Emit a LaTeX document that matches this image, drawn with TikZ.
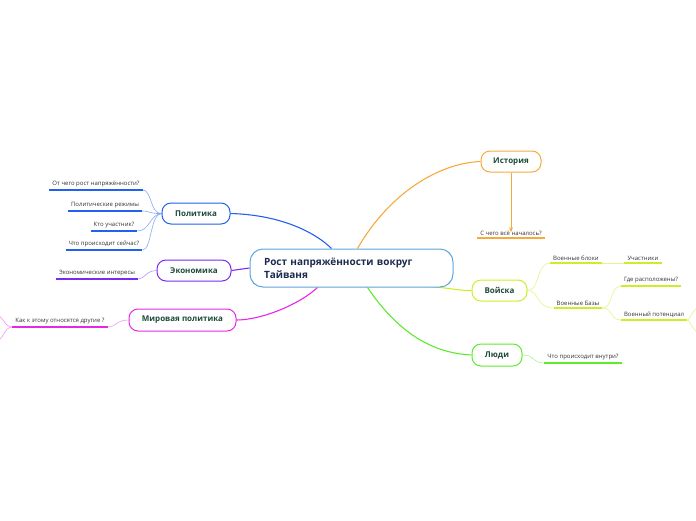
\documentclass[tikz,border=0pt]{standalone}
\usepackage{fontspec}
\setmainfont{Open Sans}
\usetikzlibrary{arrows.meta,backgrounds}
\definecolor{cOrange}{HTML}{F7A93B}
\definecolor{cBlue}{HTML}{2260F0}
\definecolor{cBlueL}{HTML}{8AA8F5}
\definecolor{cViolet}{HTML}{7A2BF0}
\definecolor{cVioletL}{HTML}{B896F5}
\definecolor{cMag}{HTML}{E628E6}
\definecolor{cMagL}{HTML}{F09AF0}
\definecolor{cYel}{HTML}{CCEE2A}
\definecolor{cYelL}{HTML}{E2F58A}
\definecolor{cGreen}{HTML}{5EEB2A}
\definecolor{cGreenL}{HTML}{A8F58A}
\definecolor{cCen}{HTML}{5DA5DC}
\definecolor{cTxt}{HTML}{1E4A3C}
\definecolor{cCenTxt}{HTML}{1C2B4C}
\definecolor{cLeaf}{HTML}{333333}
\tikzset{
  x=1pt,y=-1pt,
  mainbox/.style={draw,line width=1pt,fill=white,rounded corners=9pt,minimum height=21pt,
    text=cTxt,font=\fontsize{8}{9}\selectfont\bfseries,inner sep=0pt},
  leaf/.style={anchor=south,inner xsep=3pt,inner ysep=2.5pt,text=cLeaf,font=\fontsize{6}{7}\selectfont},
  uline/.style={line width=2.2pt},
  conn/.style={line width=1.1pt},
  thin/.style={line width=0.6pt},
}
\begin{document}
\begin{tikzpicture}
\useasboundingbox (0,0) rectangle (696,520);
% central
\node[draw=cCen,line width=1pt,fill=white,rounded corners=13pt,minimum width=203pt,minimum height=38pt,
  text width=175pt,align=left,inner xsep=0pt,text=cCenTxt,font=\fontsize{10}{13}\selectfont\bfseries]
  (cen) at (351.5,268) {Рост напряжённости вокруг\\Тайваня};
% main nodes
\node[mainbox,draw=cBlue,minimum width=68pt] (pol) at (196,213.5) {Политика};
\node[mainbox,draw=cViolet,minimum width=74pt] (eco) at (194,270.5) {Экономика};
\node[mainbox,draw=cMag,minimum width=107pt,minimum height=22pt] (mir) at (182.5,320) {Мировая политика};
\node[mainbox,draw=cOrange,minimum width=60pt] (ist) at (511,161.5) {История};
\node[mainbox,draw=cYel,minimum width=55pt] (voi) at (499.5,290.5) {Войска};
\node[mainbox,draw=cGreen,minimum width=50pt,minimum height=22pt] (lud) at (497,355) {Люди};
% leaves
\node[leaf] (l1) at (96,190) {От чего рост напряжённости?};
\node[leaf] (l2) at (105,211) {Политические режимы};
\node[leaf] (l3) at (114,231) {Кто участник?};
\node[leaf] (l4) at (104,250) {Что происходит сейчас?};
\node[leaf] (e1) at (97,279) {Экономические интересы};
\node[leaf] (m1) at (60,327) {Как к этому относятся другие ?};
\node[leaf] (h1) at (511,238) {С чего всё началось?};
\node[leaf] (v1) at (576,263) {Военные блоки};
\node[leaf] (v1a) at (643,263) {Участники};
\node[leaf] (v2) at (578,308) {Военные Базы};
\node[leaf] (v2a) at (651,286) {Где расположены?};
\node[leaf] (v2b) at (654,320) {Военный потенциал};
\node[leaf] (p1) at (583,363) {Что происходит внутри?};
\coordinate (mo1) at (-6,313);
\coordinate (mo2) at (-6,343);
\coordinate (vo1) at (702,306);
\coordinate (vo2) at (702,334);
% underlines
\draw[uline,cBlue] (l1.south west) -- (l1.south east);
\draw[uline,cBlue] (l2.south west) -- (l2.south east);
\draw[uline,cBlue] (l3.south west) -- (l3.south east);
\draw[uline,cBlue] (l4.south west) -- (l4.south east);
\draw[uline,cViolet] (e1.south west) -- (e1.south east);
\draw[uline,cMag] (m1.south west) -- (m1.south east);
\draw[uline,cOrange] (h1.south west) -- (h1.south east);
\draw[uline,cYel] (v1.south west) -- (v1.south east);
\draw[uline,cYel] (v1a.south west) -- (v1a.south east);
\draw[uline,cYel] (v2.south west) -- (v2.south east);
\draw[uline,cYel] (v2a.south west) -- (v2a.south east);
\draw[uline,cYel] (v2b.south west) -- (v2b.south east);
\draw[uline,cGreen] (p1.south west) -- (p1.south east);
\begin{scope}[on background layer]
% main connectors
\draw[conn,cBlue] (pol.east) .. controls (285,215) and (318,235) .. ([xshift=-20pt]cen.north);
\draw[conn,cOrange] ([xshift=6pt]cen.north) .. controls (390,192) and (440,163) .. (ist.west);
\draw[conn,cViolet] (cen.west) -- (eco.east);
\draw[conn,cMag] ([xshift=-34pt]cen.south) .. controls (300,304) and (262,320) .. (mir.east);
\draw[conn,cYel] ([xshift=-24pt,yshift=1pt]cen.south east) .. controls (450,288) and (462,291) .. (voi.west);
\draw[conn,cGreen] ([xshift=16pt]cen.south) .. controls (395,328) and (428,353) .. (lud.west);
\draw[line width=1pt,cOrange,-{Stealth[length=5pt,width=4pt]}] (ist.south) -- ([yshift=-4pt]h1.north);
% leaf connectors
\draw[thin,cBlueL] (pol.west) .. controls (150,214) and (152,190) .. (l1.south east);
\draw[thin,cBlueL] (pol.west) .. controls (150,214) and (150,211) .. (l2.south east);
\draw[thin,cBlueL] (pol.west) .. controls (150,214) and (150,231) .. (l3.south east);
\draw[thin,cBlueL] (pol.west) .. controls (150,214) and (152,250) .. (l4.south east);
\draw[thin,cVioletL] (eco.west) .. controls (145,271) and (145,279) .. (e1.south east);
\draw[thin,cMagL] (mir.west) .. controls (116,320) and (116,327) .. (m1.south east);
\draw[thin,cMagL] (m1.south west) .. controls (4,327) and (4,316) .. (mo1);
\draw[thin,cMagL] (m1.south west) .. controls (4,327) and (4,340) .. (mo2);
\draw[thin,cYelL] (voi.east) .. controls (540,291) and (536,263) .. (v1.south west);
\draw[thin,cYelL] (voi.east) .. controls (540,291) and (536,308) .. (v2.south west);
\draw[thin,cYelL] (v1.south east) -- (v1a.south west);
\draw[thin,cYelL] (v2.south east) .. controls (613,308) and (610,286) .. (v2a.south west);
\draw[thin,cYelL] (v2.south east) .. controls (613,308) and (610,320) .. (v2b.south west);
\draw[thin,cYelL] (v2b.south east) .. controls (690,320) and (692,308) .. (vo1);
\draw[thin,cYelL] (v2b.south east) .. controls (690,320) and (692,332) .. (vo2);
\draw[thin,cGreenL] (lud.east) .. controls (535,355) and (532,363) .. (p1.south west);
\end{scope}
\end{tikzpicture}
\end{document}
